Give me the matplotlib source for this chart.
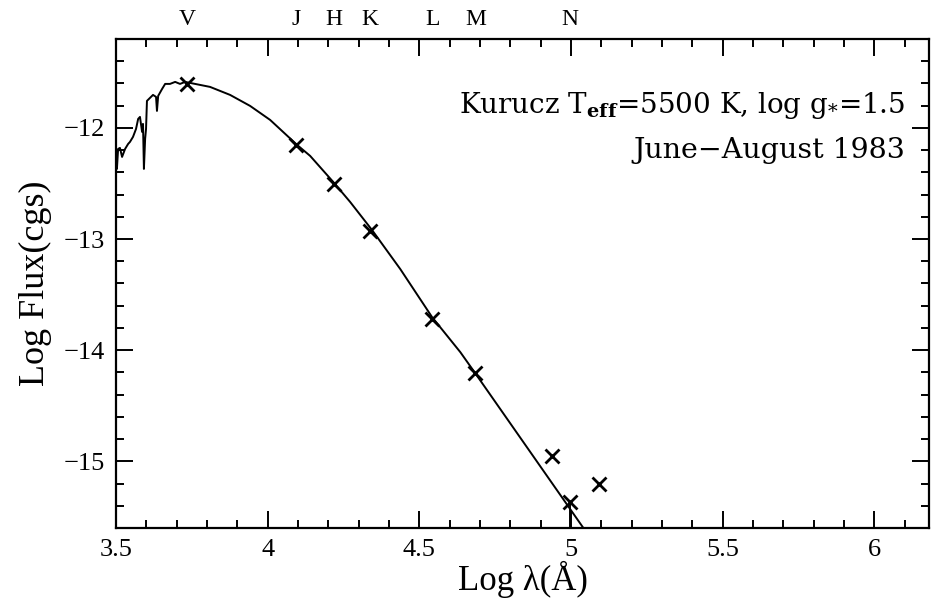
import matplotlib
matplotlib.use("Agg")
import matplotlib.pyplot as plt
import matplotlib.transforms as mtransforms
from matplotlib.ticker import MultipleLocator

plt.rcParams['font.family'] = ['Liberation Serif', 'DejaVu Serif']
plt.rcParams['mathtext.fontset'] = 'dejavuserif'

# Kurucz model spectrum (log lambda, log flux)
model_x = [3.502, 3.503, 3.507, 3.513, 3.520, 3.530, 3.540, 3.546, 3.556, 3.566,
           3.573, 3.579, 3.586, 3.589, 3.592, 3.596, 3.599, 3.602, 3.612, 3.622,
           3.632, 3.635, 3.639, 3.652, 3.662, 3.678, 3.695, 3.711, 3.728, 3.744,
           3.810, 3.876, 3.942, 4.008, 4.097, 4.140, 4.216, 4.272, 4.344, 4.437,
           4.542, 4.635, 4.684, 5.037, 5.063]
model_y = [-12.234, -12.369, -12.189, -12.180, -12.261, -12.189, -12.144, -12.126, -12.081, -12.009,
           -11.919, -11.901, -12.036, -11.964, -12.369, -12.099, -12.009, -11.757, -11.730, -11.703,
           -11.721, -11.847, -11.712, -11.649, -11.604, -11.604, -11.586, -11.604, -11.586, -11.595,
           -11.631, -11.703, -11.802, -11.928, -12.153, -12.252, -12.486, -12.667, -12.919, -13.270,
           -13.703, -14.018, -14.207, -15.586, -15.685]

# photometry, June-August 1983
phot_x = [3.734, 4.094, 4.219, 4.338, 4.542, 4.684, 4.937, 4.997, 5.093]
phot_y = [-11.604, -12.153, -12.505, -12.928, -13.721, -14.207, -14.952, -15.367, -15.207]

bands = ['V', 'J', 'H', 'K', 'L', 'M', 'N']
band_x = [3.735, 4.094, 4.219, 4.338, 4.542, 4.687, 4.997]

fig = plt.figure(figsize=(9.31, 6.01), dpi=100)
ax = fig.add_axes([0.1246, 0.1215, 0.8733, 0.8136])

ax.plot(model_x, model_y, color='black', lw=1.4)
ax.plot(phot_x, phot_y, 'x', color='black', ms=10, mew=2.0)
ax.vlines(phot_x[7], phot_y[7], -15.8, color='black', lw=1.4)

ax.set_xlim(3.5, 6.18)
ax.set_ylim(-15.6, -11.2)

ax.xaxis.set_minor_locator(MultipleLocator(0.1))
ax.yaxis.set_minor_locator(MultipleLocator(0.2))
ax.set_xticks([3.5, 4, 4.5, 5, 5.5, 6])
ax.set_xticklabels(['3.5', '4', '4.5', '5', '5.5', '6'])
ax.set_yticks([-12, -13, -14, -15])
ax.set_yticklabels(['\u221212', '\u221213', '\u221214', '\u221215'])

ax.tick_params(which='both', direction='in', top=True, right=True, width=1.4, labelsize=19)
ax.tick_params(which='major', length=12)
ax.tick_params(which='minor', length=6)
ax.tick_params(axis='x', pad=8)
ax.tick_params(axis='y', pad=8)
for s in ax.spines.values():
    s.set_linewidth(1.6)

ax.set_xlabel('Log \u03bb(\u00c5)', fontsize=25, labelpad=0)
ax.set_ylabel('Log Flux(cgs)', fontsize=26, labelpad=8)

trans = mtransforms.blended_transform_factory(ax.transData, fig.transFigure)
for b, bx in zip(bands, band_x):
    fig.text(bx, 0.968, b, transform=trans, ha='center', va='center', fontsize=17)

ax.text(0.9705, 0.849, r'Kurucz T$_{\mathbf{eff}}$=5500 K, log g$_{*}$=1.5',
        transform=ax.transAxes, ha='right', va='baseline', fontsize=20, family='DejaVu Serif')
ax.text(0.9705, 0.757, 'June\u2212August 1983',
        transform=ax.transAxes, ha='right', va='baseline', fontsize=20.5, family='DejaVu Serif')

fig.savefig('out.png', dpi=100)
